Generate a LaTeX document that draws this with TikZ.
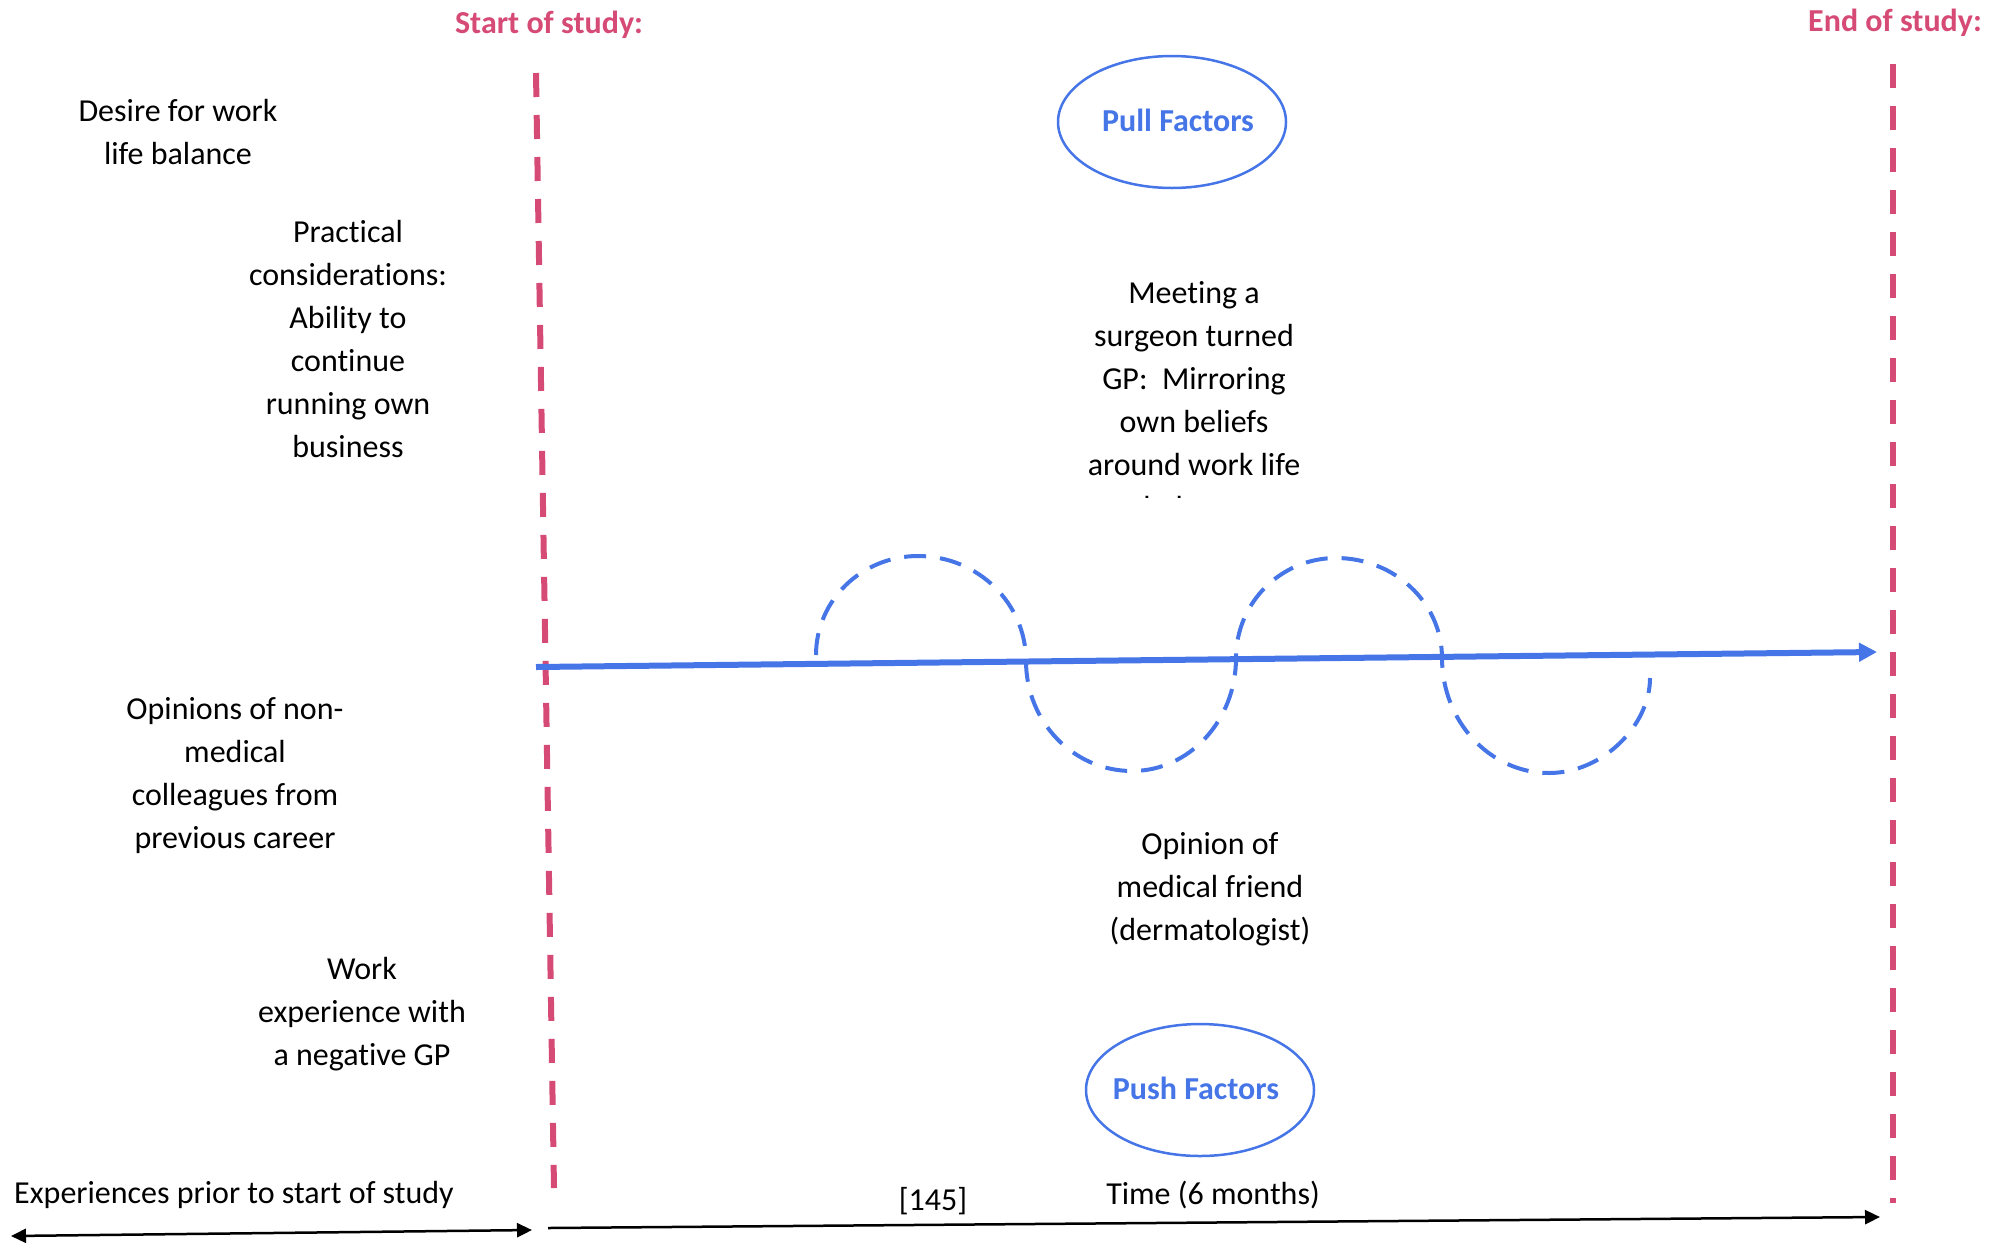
\documentclass[tikz,border=0pt]{standalone}
\usepackage{fontspec}
\setmainfont[Ligatures=NoCommon]{Carlito}
\usetikzlibrary{arrows.meta,shapes.geometric}
\definecolor{studypink}{RGB}{214,74,118}
\definecolor{flowblue}{RGB}{69,117,230}
\begin{document}
\begin{tikzpicture}[x=0.5pt,y=-0.5pt,
  txt/.style={font=\fontsize{16}{21.5}\selectfont, align=center, inner sep=0pt},
  marker/.style={font=\bfseries\fontsize{16}{21.5}\selectfont, text=studypink, inner sep=0pt},
  boundary/.style={draw=studypink, line width=3pt, dash pattern=on 12pt off 9pt},
  factor/.style={draw=flowblue, line width=1.25pt, ellipse, inner sep=0pt,
    minimum width=114pt, minimum height=66pt},
  factortext/.style={text=flowblue, inner sep=0pt,
    font=\bfseries\fontsize{16}{21.5}\selectfont},
  timeline/.style={draw=flowblue, line width=3pt, -{Triangle[length=9pt,width=9pt]}},
  wave/.style={draw=flowblue, line width=2pt, dash pattern=on 11pt off 7pt},
  span/.style={draw=black, line width=1.25pt}
]
\useasboundingbox (0,0) rectangle (2006,1243);

% study boundaries
\node[marker] (start) at (549,25) {Start of study:};
\node[marker] (end) at (1895,23) {End of study:};
\coordinate (s0) at (536,73);
\coordinate (s1) at (554,1188);
\coordinate (e0) at (1893,64);
\coordinate (e1) at (1893,1203);
\draw[boundary] (s0) -- (s1);
\draw[boundary] (e0) -- (e1);

% factor ellipses
\node[factor] (pull) at (1172,122) {};
\node[factortext] (pulltext) at (1178,120) {Pull Factors};
\node[factor] (push) at (1200,1090) {};
\node[factortext] (pushtext) at (1196,1088) {Push Factors};

% experiences before the study
\node[txt] (desire) at (178,132) {Desire for work\\life balance};
\node[txt] (practical) at (348,339) {Practical\\considerations:\\Ability to\\continue\\running own\\business};
\node[txt] (opinions) at (235,776) {Opinions of non-\\medical\\colleagues from\\previous career};
\node[txt] (work) at (362,1014) {Work\\experience with\\a negative GP};

% experiences during the study
\begin{scope}
  \clip (900,200) rectangle (1500,497);
  \node[txt] (meeting) at (1194,400) {Meeting a\\surgeon turned\\GP: \ Mirroring\\own beliefs\\around work life\\balance};
\end{scope}
\node[txt] (friend) at (1210,889) {Opinion of\\medical friend\\(dermatologist)};

% timeline with oscillating influence
\coordinate (t0) at (536,667);
\coordinate (t1) at (1877,652);
\draw[timeline] (t0) -- (t1);

\coordinate (w0) at (816,655);
\coordinate (w1) at (918,556);
\coordinate (w2) at (1026,661);
\coordinate (w3) at (1132,771);
\coordinate (w4) at (1236,658);
\coordinate (w5) at (1336,558);
\coordinate (w6) at (1442,658);
\coordinate (w7) at (1549,773);
\coordinate (w8) at (1650,678);
\draw[wave] (w0)
  .. controls (816,600.3) and (861.7,556) .. (w1)
  .. controls (977.6,556) and (1026,603) .. (w2)
  .. controls (1026,721.8) and (1073.5,771) .. (w3)
  .. controls (1189.4,771) and (1236,720.4) .. (w4)
  .. controls (1236,602.8) and (1280.8,558) .. (w5)
  .. controls (1394.5,558) and (1442,602.8) .. (w6)
  .. controls (1442,721.5) and (1489.9,773) .. (w7)
  .. controls (1603,773) and (1650,725) .. (w8);

% bottom axis
\node[txt] (prior) at (234,1195) {Experiences prior to start of study};
\node[txt] (ref) at (933,1201) {[145]};
\node[txt] (time) at (1213,1195) {Time (6 months)};
\coordinate (p0) at (11,1236);
\coordinate (p1) at (532,1230);
\coordinate (q0) at (548,1228);
\coordinate (q1) at (1880,1217);
\draw[span, {Triangle[length=7.5pt,width=7pt]}-{Triangle[length=7.5pt,width=7pt]}] (p0) -- (p1);
\draw[span, -{Triangle[length=7.5pt,width=7pt]}] (q0) -- (q1);
\end{tikzpicture}
\end{document}
